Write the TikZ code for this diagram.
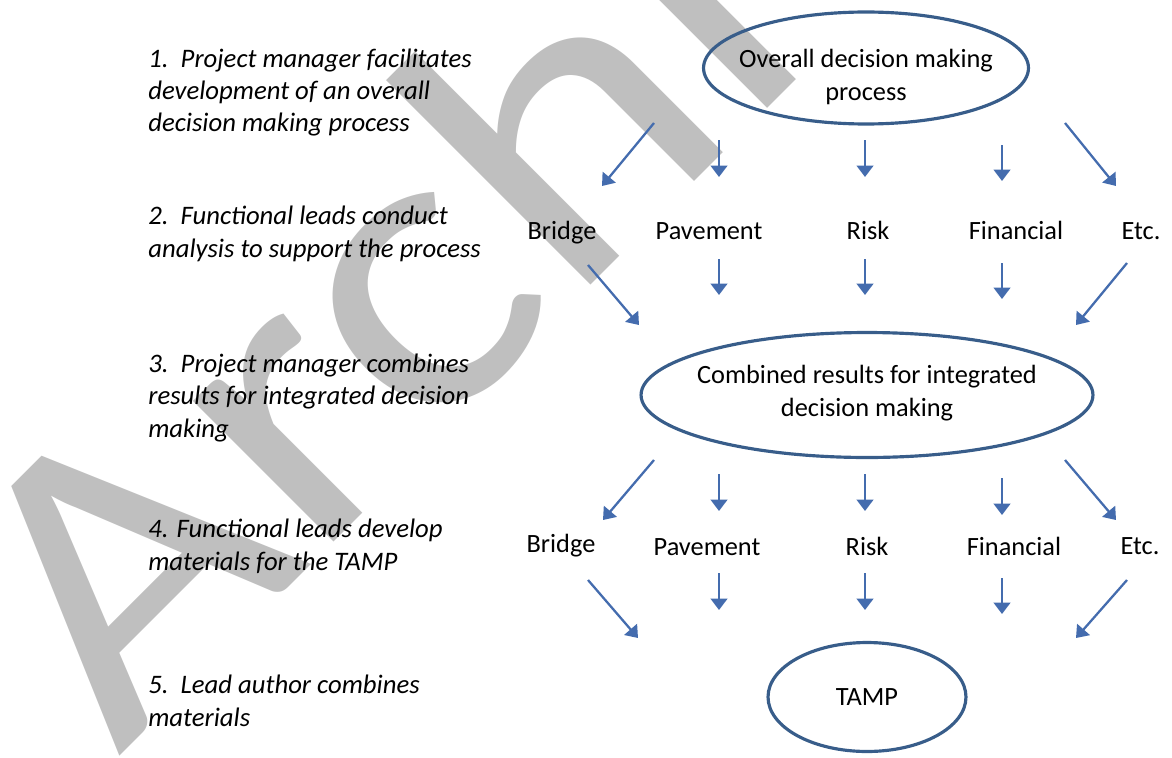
\documentclass[tikz,border=0pt]{standalone}
\usepackage{fontspec}
\setmainfont{Carlito}
\usetikzlibrary{shapes.geometric,arrows.meta,positioning}
\definecolor{arrowblue}{RGB}{68,108,174}
\definecolor{ringblue}{RGB}{56,93,138}
\definecolor{markgray}{RGB}{191,191,191}

\begin{document}
\begin{tikzpicture}[x=0.02cm, y=-0.02cm,
    every node/.style={inner sep=0pt, font=\fontsize{15pt}{18.4pt}\selectfont},
    stage/.style={anchor=base west, align=left, font=\fontsize{15.2pt}{18.4pt}\selectfont\itshape},
    area/.style={anchor=base},
    ring/.style={draw=ringblue, line width=1.8pt, ellipse},
    arr/.style={draw=arrowblue, line width=1.3pt, -{Triangle[width=9.5pt,length=6.5pt]}}
]
\useasboundingbox (0,0) rectangle (1172,757);
% watermark
\begin{scope}
    \clip (0,0) rectangle (1172,757);
    \node[anchor=base west, rotate=45, xscale=1.14, text=markgray,
          font=\fontsize{237pt}{237pt}\selectfont] (mark) at (118,758) {Archive};
\end{scope}

% steps on the left
\node[stage] (s1) at (148,132) {1.\ \ Project manager facilitates\\development of an overall\\decision making process};
\node[stage] (s2) at (148,257) {2.\ \ Functional leads conduct\\analysis to support the process};
\node[stage] (s3) at (148,437) {3.\ \ Project manager combines\\results for integrated decision\\making};
\node[stage] (s4) at (148,570) {4. Functional leads develop\\materials for the TAMP};
\node[stage] (s5) at (148,726) {5.\ \ Lead author combines\\materials};

% ellipses
\node[ring, minimum width=6.5cm, minimum height=2.24cm] (overall) at (866,68) {};
\node[area, align=center] (overalltxt) at (866,100) {Overall decision making\\process};
\node[ring, minimum width=9.04cm, minimum height=2.5cm] (comb) at (867,395) {};
\node[area, align=center] (combtxt) at (867,416) {Combined results for integrated\\decision making};
\node[ring, minimum width=3.96cm, minimum height=2.18cm] (tamp) at (867,697) {};
\node (tamptxt) at (867,697) {TAMP};

% functional areas
\node[area] (bridgeA) at (562,239) {Bridge};
\node[area] (paveA) at (709,239) {Pavement};
\node[area] (riskA) at (868,239) {Risk};
\node[area] (finA) at (1016,239) {Financial};
\node[area] (etcA) at (1141,239) {Etc.};
\node[area] (bridgeB) at (561,552) {Bridge};
\node[area] (paveB) at (707,555) {Pavement};
\node[area] (riskB) at (867,555) {Risk};
\node[area] (finB) at (1014,555) {Financial};
\node[area] (etcB) at (1140,554) {Etc.};

% arrows
\foreach \n/\xa/\ya/\xb/\yb in {
    1/654/123/602/186, 2/719/140/719/177, 3/865/140/865/177, 4/1002/145/1002/181, 5/1065/123/1116/186,
    6/588/265/639/325, 7/719/259/719/295, 8/865/259/865/295, 9/1002/263/1002/299, 10/1127/263/1076/325,
    11/654/460/603/520, 12/719/474/719/511, 13/865/474/865/511, 14/1002/478/1002/515, 15/1065/460/1116/520,
    16/588/580/638/638, 17/719/573/719/610, 18/865/573/865/610, 19/1002/578/1002/614, 20/1127/580/1076/638}
{
    \coordinate (a\n) at (\xa,\ya);
    \coordinate (b\n) at (\xb,\yb);
    \draw[arr] (a\n) -- (b\n);
}
\end{tikzpicture}
\end{document}
